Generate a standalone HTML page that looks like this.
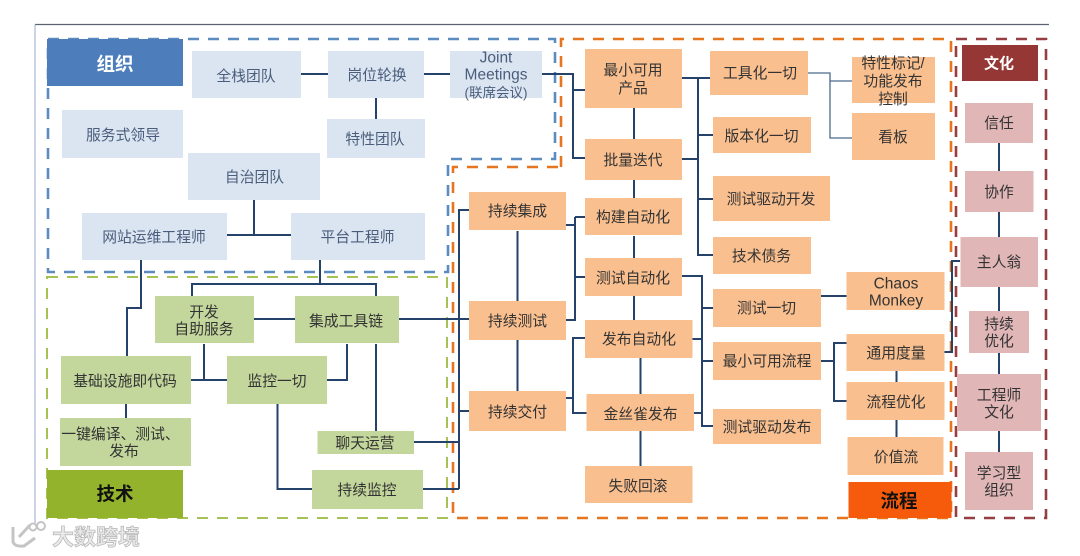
<!DOCTYPE html>
<html lang="zh">
<head>
<meta charset="utf-8">
<title>DevOps</title>
<style>
html,body{margin:0;padding:0;background:#fff;width:1080px;height:556px;overflow:hidden}
svg{display:block;filter:blur(.35px)}
text{font-family:"Liberation Sans","Noto Sans CJK SC",sans-serif;font-size:14.8px;text-anchor:middle;dominant-baseline:central;fill:#333;transform:translateY(1px)}
.o text{fill:#4a5d7c}
.h text{font-weight:700;font-size:18.5px;fill:#111}
.l{fill:none;stroke:#24426a;stroke-width:2}
.t{fill:none;stroke:#4a6a8c;stroke-width:1.3}
.b{fill:#dbe5f1}.g{fill:#c3d69b}.r{fill:#fabf8f}.p{fill:#e0b6b7}
.d{fill:none;stroke-width:2.6;stroke-dasharray:11 9}
.lat{font-size:15.5px}
</style>
</head>
<body>
<svg width="1080" height="556" viewBox="0 0 1080 556" xmlns="http://www.w3.org/2000/svg">
<rect width="1080" height="556" fill="#fff"/>
<path d="M35 24.500H1049" stroke="#5b6470" stroke-width="1.200" fill="none"/>
<path d="M35 24.500V525" stroke="#aab6d6" stroke-width="1.200" fill="none"/>

<path class="d" stroke="#5b8cc0" d="M48 39H555V159H448V272H48Z"/>
<path class="d" stroke="#a6c255" stroke-dasharray="6 6" style="stroke-width:2" d="M47 277H447V518H47Z"/>
<path class="d" stroke="#e5761f" d="M561 167V39H951V518H453V167Z"/>
<path class="d" stroke="#953f42" d="M956 39H1046V518H956Z"/>

<g class="l">
<path d="M227 235H292M254 200V235M301 74H328M424 74H450M376 98V119"/>
<path d="M141 260V308H127V356M320 260V284M192 296V284H376V296"/>
<path d="M254 319H295M399 319H469M204 344V380M191 380H227M327 380H347V344M376 344V431M126 404V418"/>
<path d="M277.500 404V489H312M414 442H459M423 489H459M459 489V210H469M459 411H469M517.500 231V391"/>
<path d="M542 74H573V158H585M573 90H585"/>
<path d="M634 108V139M634 180V198M634 236V259M634 296V320"/>
<path d="M682 78H710M698 78V255H713M698 135H713M698 199H713M682 159H698"/>
<path d="M566 225H575M575 217H585M575 217V320H566M575 277H585"/>
<path d="M566 398H573M585 338H573V413H587M640.500 358V466"/>
<path d="M682 276H702V426H713M702 308H713M692 339H702M702 361H713M694 413H702"/>
<path d="M821 296H847M821 361H834M847 343H834V401H847M896.500 371V382M896.500 420V437"/>
<path d="M944 352H952V261H960M999 143V452"/>
</g>
<path class="t" d="M808 73H830V138H852M830 81H852"/>

<rect x="47" y="39" width="136" height="47" fill="#4d7ebb"/>
<rect x="47" y="470" width="136" height="48" fill="#94b32c"/>
<rect x="848.500" y="482" width="103" height="36" fill="#f55b0b"/>
<rect x="962" y="45" width="76" height="36" fill="#953735"/>

<g class="b">
<rect x="192" y="51" width="109" height="47"/>
<rect x="328" y="51" width="96" height="47"/>
<rect x="450" y="51" width="92" height="47"/>
<rect x="62" y="110" width="121" height="48"/>
<rect x="327" y="119" width="98" height="39"/>
<rect x="188" y="153" width="132" height="47"/>
<rect x="82" y="213" width="145" height="47"/>
<rect x="291" y="213" width="134" height="47"/>
</g>
<g class="g">
<rect x="155" y="296" width="99" height="47"/>
<rect x="295" y="296" width="104" height="47"/>
<rect x="61" y="356" width="130" height="48"/>
<rect x="227" y="356" width="100" height="48"/>
<rect x="60" y="418" width="131" height="48"/>
<rect x="317.500" y="431" width="96.500" height="23"/>
<rect x="312" y="470" width="111" height="39"/>
</g>
<g class="r">
<rect x="469" y="192" width="97" height="38"/>
<rect x="469" y="301" width="97" height="39"/>
<rect x="469" y="391" width="97" height="40"/>
<rect x="585" y="49" width="97" height="59"/>
<rect x="585" y="139" width="97" height="41"/>
<rect x="585" y="198" width="97" height="37"/>
<rect x="585" y="258" width="97" height="38"/>
<rect x="585" y="320" width="107.500" height="38"/>
<rect x="586.500" y="394" width="107.500" height="37"/>
<rect x="585" y="466" width="107.500" height="37"/>
<rect x="710" y="51" width="98" height="44"/>
<rect x="713" y="117" width="98" height="36"/>
<rect x="713" y="176" width="117" height="45"/>
<rect x="713" y="237" width="98" height="37"/>
<rect x="713" y="289" width="108" height="38"/>
<rect x="713" y="342" width="108" height="38"/>
<rect x="713" y="409" width="108" height="35"/>
<rect x="852" y="57" width="83" height="46"/>
<rect x="852" y="113" width="83" height="47"/>
<rect x="846.500" y="272" width="98" height="38"/>
<rect x="846.500" y="334" width="98" height="37"/>
<rect x="846.500" y="382" width="98" height="38"/>
<rect x="847.500" y="437" width="96" height="38"/>
</g>
<g class="p">
<rect x="965" y="103" width="68" height="40"/>
<rect x="965" y="171" width="68.500" height="41"/>
<rect x="960.500" y="237" width="77.500" height="50"/>
<rect x="969" y="311" width="60" height="42"/>
<rect x="957" y="374" width="84" height="57"/>
<rect x="965" y="452" width="68" height="58"/>
</g>

<g class="o">
<text x="246" y="76">全栈团队</text>
<text x="377" y="75">岗位轮换</text>
<text x="496" y="57" class="lat">Joint</text>
<text x="496" y="74" class="lat">Meetings</text>
<text x="496" y="92" style="font-size:13.500px">(联席会议)</text>
<text x="123" y="135">服务式领导</text>
<text x="375" y="139">特性团队</text>
<text x="254.500" y="177">自治团队</text>
<text x="154" y="237">网站运维工程师</text>
<text x="357.500" y="237">平台工程师</text>
</g>
<g>
<text x="204" y="312">开发</text>
<text x="204" y="329">自助服务</text>
<text x="346" y="321">集成工具链</text>
<text x="125" y="381">基础设施即代码</text>
<text x="277" y="381">监控一切</text>
<text x="120.500" y="434">一键编译、测试、</text>
<text x="124" y="451">发布</text>
<text x="365" y="443">聊天运营</text>
<text x="367" y="490">持续监控</text>
<text x="517.500" y="211">持续集成</text>
<text x="517.500" y="321">持续测试</text>
<text x="517.500" y="412">持续交付</text>
<text x="633" y="70">最小可用</text>
<text x="633" y="88">产品</text>
<text x="633" y="160">批量迭代</text>
<text x="633" y="217">构建自动化</text>
<text x="633" y="278">测试自动化</text>
<text x="639" y="339">发布自动化</text>
<text x="640.500" y="414">金丝雀发布</text>
<text x="638" y="486">失败回滚</text>
<text x="760" y="73">工具化一切</text>
<text x="761.500" y="136">版本化一切</text>
<text x="771" y="199">测试驱动开发</text>
<text x="761.500" y="256">技术债务</text>
<text x="893" y="63">特性标记/</text>
<text x="893" y="81">功能发布</text>
<text x="893" y="99">控制</text>
<text x="893" y="137">看板</text>
<text x="766.500" y="308">测试一切</text>
<text x="767" y="361">最小可用流程</text>
<text x="767" y="427">测试驱动发布</text>
<text x="896" y="283" class="lat">Chaos</text>
<text x="896" y="300" class="lat">Monkey</text>
<text x="896" y="353">通用度量</text>
<text x="896" y="402">流程优化</text>
<text x="896" y="457">价值流</text>
<text x="999" y="123">信任</text>
<text x="999" y="192">协作</text>
<text x="999" y="262">主人翁</text>
<text x="999" y="324">持续</text>
<text x="999" y="341">优化</text>
<text x="999" y="395">工程师</text>
<text x="999" y="412">文化</text>
<text x="999" y="473">学习型</text>
<text x="999" y="490">组织</text>
</g>
<g class="h">
<text x="115" y="63" style="fill:#fff">组织</text>
<text x="115" y="493">技术</text>
<text x="899" y="500">流程</text>
<text x="999" y="63" style="fill:#fff;font-size:15px">文化</text>
</g>

<g fill="none" stroke="#c4c4c4" stroke-width="3">
<path d="M13 527V542Q15 547 24 546L35 538"/>
<path d="M19 537L30 525"/>
<circle cx="33" cy="527" r="3.500" stroke-width="2"/>
<circle cx="41" cy="526" r="4" stroke-width="2"/>
</g>
<text x="96" y="536.500" style="font-size:22px;font-weight:700;fill:#e9e9e9;stroke:#b5b5b5;stroke-width:.7px">大数跨境</text>
</svg>
</body>
</html>
